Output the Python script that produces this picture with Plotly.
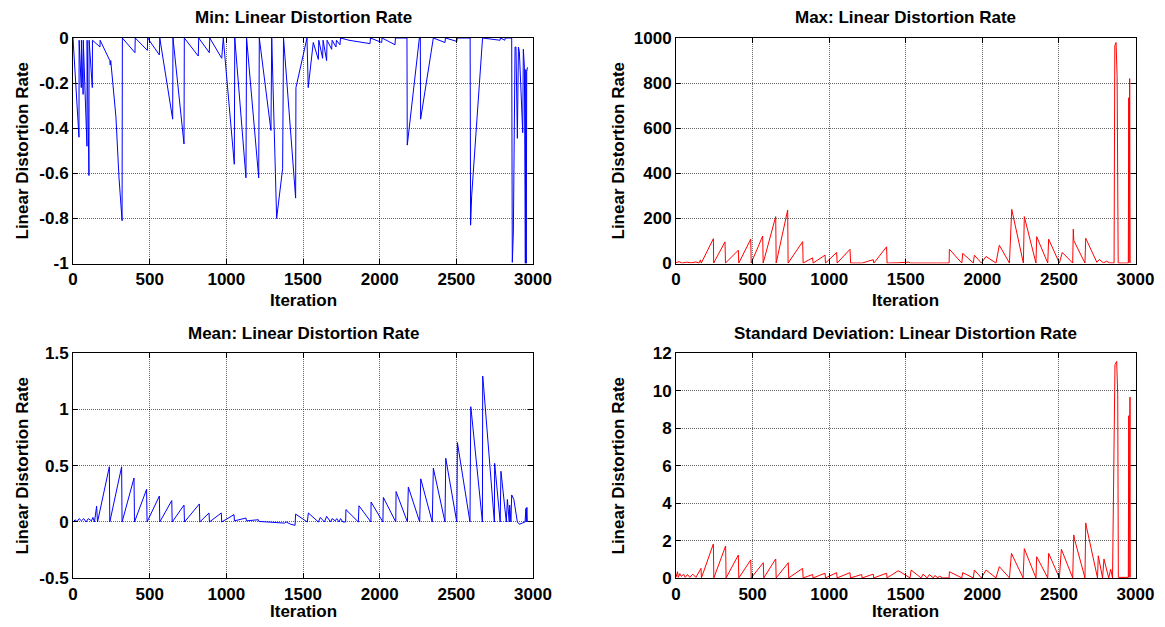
import plotly.graph_objects as go

FONT = "Liberation Sans, Arial, sans-serif"

x_ticks = [0, 500, 1000, 1500, 2000, 2500, 3000]
min_ticks = [-1, -0.8, -0.6, -0.4, -0.2, 0]
min_tick_text = ["-1", "-0.8", "-0.6", "-0.4", "-0.2", "0"]
max_ticks = [0, 200, 400, 600, 800, 1000]
mean_ticks = [-0.5, 0, 0.5, 1, 1.5]
mean_tick_text = ["-0.5", "0", "0.5", "1", "1.5"]
std_ticks = [0, 2, 4, 6, 8, 10, 12]

titles = ["Min: Linear Distortion Rate", "Max: Linear Distortion Rate",
          "Mean: Linear Distortion Rate", "Standard Deviation: Linear Distortion Rate"]
x_label = "Iteration"
y_label = "Linear Distortion Rate"

# ---- Min ----
min_x = [0, 39, 40, 54, 55, 66, 67, 91, 92, 104,
         105, 126, 127, 176, 177, 240, 243, 246, 280, 300,
         320, 322, 404, 406, 485, 487, 563, 566, 650, 652,
         724, 726, 817, 820, 889, 892, 970, 980, 1052, 1055,
         1128, 1132, 1211, 1215, 1291, 1296, 1328, 1367, 1373, 1452,
         1454, 1526, 1534, 1567, 1600, 1603, 1628, 1631, 1654, 1657,
         1687, 1690, 1715, 1718, 1741, 1745, 1800, 1937, 1940, 2013,
         2016, 2100, 2103, 2178, 2180, 2259, 2265, 2267, 2350, 2426,
         2429, 2503, 2506, 2590, 2593, 2600, 2671, 2785, 2788, 2816,
         2819, 2861, 2865, 2872, 2883, 2889, 2898, 2905, 2911, 2920,
         2926, 2933, 2937, 2944, 2950, 2953, 2956, 2959, 2964]
min_y = [0, -0.44, -0.01, -0.22, -0.01, -0.25, -0.01, -0.48, -0.01, -0.61,
         -0.01, -0.22, -0.01, -0.04, -0.01, -0.10, -0.12, -0.10, -0.35, -0.62,
         -0.81, 0, -0.065, 0, -0.055, 0, -0.075, 0, -0.36, 0,
         -0.47, 0, -0.08, 0, -0.065, 0, -0.09, 0, -0.56, 0,
         -0.62, 0, -0.62, 0, -0.41, 0, -0.80, -0.58, 0, -0.71,
         -0.22, 0, -0.22, -0.02, -0.095, -0.01, -0.09, -0.01, -0.10, -0.01,
         -0.05, -0.01, -0.04, -0.01, -0.03, 0, -0.01, -0.025, 0, -0.02,
         0, -0.03, 0, 0, -0.475, 0, 0, -0.36, 0, -0.02,
         0, -0.015, 0, 0, -0.83, -0.70, 0, -0.01, 0, -0.01,
         0, 0, -0.995, -0.86, -0.04, -0.04, -0.445, -0.04, -0.06, -0.195,
         -0.31, -0.42, -0.05, -0.13, -1.0, -0.14, -1.0, -0.15, -0.13]

# ---- Max ----
max_x = [0, 20, 40, 70, 100, 130, 150, 160, 165, 244,
         246, 320, 323, 407, 410, 488, 491, 566, 569, 651,
         654, 729, 732, 827, 830, 892, 895, 973, 976, 1049,
         1052, 1136, 1140, 1212, 1216, 1288, 1292, 1375, 1378, 1450,
         1520, 1530, 1600, 1700, 1783, 1785, 1866, 1872, 1941, 1948,
         1994, 2024, 2089, 2111, 2177, 2192, 2268, 2274, 2350, 2355,
         2427, 2433, 2503, 2522, 2590, 2594, 2597, 2670, 2675, 2748,
         2764, 2790, 2812, 2830, 2850, 2860, 2865, 2873, 2880, 2887,
         2953, 2956, 2958, 2962, 2965]
max_y = [4, 8, 2, 6, 3, 7, 2, 16, 2, 110,
         2, 96, 2, 59, 2, 108, 2, 122, 2, 208,
         2, 237, 2, 97, 2, 25, 2, 37, 2, 49,
         2, 63, 2, 5, 2, 17, 2, 74, 2, 3,
         6, 2, 3, 2, 2, 63, 2, 45, 2, 37,
         2, 31, 2, 81, 2, 240, 2, 208, 2, 119,
         2, 108, 2, 49, 2, 152, 102, 2, 112, 5,
         18, 3, 10, 3, 4, 2, 966, 980, 830, 2,
         2, 735, 5, 820, 2]

# ---- Mean ----
mean_x = [0, 15, 25, 40, 55, 70, 85, 100, 120, 130,
          140, 154, 160, 237, 240, 317, 320, 398, 401, 480,
          483, 563, 566, 644, 647, 724, 727, 824, 827, 887,
          890, 967, 970, 1050, 1053, 1128, 1131, 1209, 1212, 1300,
          1380, 1390, 1420, 1448, 1452, 1528, 1535, 1600, 1613, 1640,
          1654, 1680, 1690, 1710, 1720, 1735, 1745, 1760, 1778, 1780,
          1861, 1865, 1943, 1944, 2021, 2024, 2105, 2107, 2181, 2187,
          2261, 2268, 2343, 2350, 2426, 2431, 2503, 2507, 2589, 2594,
          2600, 2670, 2672, 2678, 2748, 2750, 2786, 2791, 2826, 2833,
          2845, 2848, 2856, 2861, 2875, 2898, 2911, 2930, 2948, 2954,
          2956, 2960, 2963]
mean_y = [0, 0.02, 0.0, 0.03, 0.01, 0.03, 0.0, 0.03, 0.01, 0.04,
          0.0, 0.14, 0, 0.49, 0, 0.49, 0, 0.39, 0, 0.29,
          0, 0.23, 0, 0.19, 0, 0.15, 0, 0.16, 0, 0.08,
          0, 0.08, 0, 0.065, 0.01, 0.035, 0.01, 0.02, 0.005, 0.0,
          -0.01, 0.0, -0.02, -0.03, 0.07, 0, 0.08, 0, 0.04, 0,
          0.05, 0, 0.03, 0.01, 0.03, 0.0, 0.03, 0.0, 0.0, 0.11,
          0, 0.144, 0, 0.177, 0, 0.218, 0, 0.27, 0, 0.31,
          0, 0.383, 0, 0.478, 0, 0.566, 0, 0.705, 0, 1.023,
          0.95, 0, 1.295, 1.20, 0, 0.52, 0, 0.45, 0, 0.20,
          0, 0.15, 0, 0.24, 0.20, 0, -0.02, -0.01, 0.0, 0.12,
          0.0, 0.13, 0.0]

# ---- Standard deviation ----
std_x = [0, 10, 15, 25, 35, 50, 60, 75, 90, 110,
         130, 163, 166, 244, 247, 324, 327, 407, 410, 488,
         491, 570, 573, 651, 654, 733, 736, 827, 830, 892,
         895, 973, 976, 1049, 1052, 1136, 1139, 1212, 1215, 1288,
         1291, 1375, 1378, 1450, 1463, 1528, 1535, 1600, 1613, 1640,
         1654, 1680, 1690, 1710, 1720, 1740, 1783, 1785, 1866, 1872,
         1941, 1948, 1994, 2024, 2089, 2111, 2177, 2190, 2266, 2274,
         2350, 2355, 2427, 2433, 2503, 2516, 2590, 2597, 2603, 2670,
         2675, 2681, 2752, 2757, 2785, 2794, 2825, 2838, 2850, 2866,
         2877, 2884, 2888, 2953, 2956, 2958, 2964, 2966]
std_y = [0.05, 0.35, 0.05, 0.25, 0.1, 0.22, 0.05, 0.2, 0.05, 0.22,
         0.05, 0.53, 0.02, 1.83, 0.02, 1.72, 0.02, 1.24, 0.02, 0.98,
         0.02, 0.83, 0.02, 1.03, 0.02, 0.83, 0.02, 0.53, 0.02, 0.2,
         0.02, 0.27, 0.02, 0.3, 0.02, 0.3, 0.02, 0.2, 0.02, 0.22,
         0.02, 0.27, 0.02, 0.4, 0.35, 0.02, 0.44, 0.02, 0.22, 0.02,
         0.2, 0.02, 0.15, 0.02, 0.12, 0.02, 0.02, 0.35, 0.02, 0.3,
         0.02, 0.44, 0.02, 0.44, 0.02, 0.62, 0.02, 1.33, 0.02, 1.58,
         0.02, 1.15, 0.02, 1.33, 0.02, 1.55, 0.02, 2.31, 2.05, 0.02,
         2.95, 2.7, 0.02, 1.2, 0.02, 1.03, 0.02, 0.48, 0.02, 11.38,
         11.55, 9.78, 0.05, 0.05, 8.66, 0.05, 9.65, 0.05]

BLUE = "#0000ff"
RED = "#ff0000"

fig = go.Figure()
fig.add_trace(go.Scatter(x=min_x, y=min_y, mode="lines", line=dict(color=BLUE, width=1),
                         xaxis="x", yaxis="y", showlegend=False))
fig.add_trace(go.Scatter(x=max_x, y=max_y, mode="lines", line=dict(color=RED, width=1),
                         xaxis="x2", yaxis="y2", showlegend=False))
fig.add_trace(go.Scatter(x=mean_x, y=mean_y, mode="lines", line=dict(color=BLUE, width=1),
                         xaxis="x3", yaxis="y3", showlegend=False))
fig.add_trace(go.Scatter(x=std_x, y=std_y, mode="lines", line=dict(color=RED, width=1),
                         xaxis="x4", yaxis="y4", showlegend=False))

# The page body adds an 8px margin, so work in page pixels minus that offset.
OFF = 8
W, H = 1165 - OFF, 627 - OFF


def fx(px):
    return (px - OFF) / W


def fy(py):
    return 1 - (py - OFF) / H


LEFT = [fx(73), fx(533)]
RIGHT = [fx(676), fx(1135.5)]
TOP = [fy(263.5), fy(38)]
BOTTOM = [fy(578.3), fy(353)]

tickfont = dict(family=FONT, size=17, color="black", weight="bold")


def axis_common():
    return dict(ticks="inside", ticklen=5, tickcolor="black", showline=True,
                linecolor="black", linewidth=1, mirror="ticks", showgrid=True,
                gridcolor="rgba(0,0,0,0.6)", griddash="1px,1px", gridwidth=1,
                zeroline=False, tickfont=tickfont, fixedrange=True,
                automargin=False)


def xaxis(domain, anchor):
    d = axis_common()
    d.update(domain=domain, anchor=anchor, range=[0, 3000], tickvals=x_ticks,
             ticktext=[str(v) for v in x_ticks])
    return d


def yaxis(domain, anchor, rng, vals, text):
    d = axis_common()
    d.update(domain=domain, anchor=anchor, range=rng, tickvals=vals, ticktext=text)
    return d


fig.update_layout(
    template="none",
    width=W, height=H,
    margin=dict(l=0, r=0, t=0, b=0, pad=0),
    paper_bgcolor="white", plot_bgcolor="white",
    showlegend=False,
    xaxis=xaxis(LEFT, "y"),
    yaxis=yaxis(TOP, "x", [-1, 0], min_ticks, min_tick_text),
    xaxis2=xaxis(RIGHT, "y2"),
    yaxis2=yaxis(TOP, "x2", [0, 1000], max_ticks, [str(v) for v in max_ticks]),
    xaxis3=xaxis(LEFT, "y3"),
    yaxis3=yaxis(BOTTOM, "x3", [-0.5, 1.5], mean_ticks, mean_tick_text),
    xaxis4=xaxis(RIGHT, "y4"),
    yaxis4=yaxis(BOTTOM, "x4", [0, 12], std_ticks, [str(v) for v in std_ticks]),
)

labfont = dict(family=FONT, size=17, color="black", weight="bold")
cx_left = (LEFT[0] + LEFT[1]) / 2
cx_right = (RIGHT[0] + RIGHT[1]) / 2
ann = []
for (cx, ty, tx) in [(cx_left, 18, titles[0]), (cx_right, 18, titles[1]),
                     (cx_left, 333, titles[2]), (cx_right, 333, titles[3])]:
    ann.append(dict(x=cx, y=fy(ty), xref="paper", yref="paper", text=tx,
                    showarrow=False, font=labfont, xanchor="center", yanchor="middle"))
for (cx, ty) in [(cx_left, 300), (cx_right, 300), (cx_left, 611), (cx_right, 611)]:
    ann.append(dict(x=cx, y=fy(ty), xref="paper", yref="paper", text=x_label,
                    showarrow=False, font=labfont, xanchor="center", yanchor="middle"))
for (px, cy) in [(22, 150.5), (618, 150.5), (22, 465.5), (618, 465.5)]:
    ann.append(dict(x=fx(px), y=fy(cy), xref="paper", yref="paper", text=y_label,
                    showarrow=False, font=labfont, textangle=-90,
                    xanchor="center", yanchor="middle"))
fig.update_layout(annotations=ann)

fig.write_html("out.html")
